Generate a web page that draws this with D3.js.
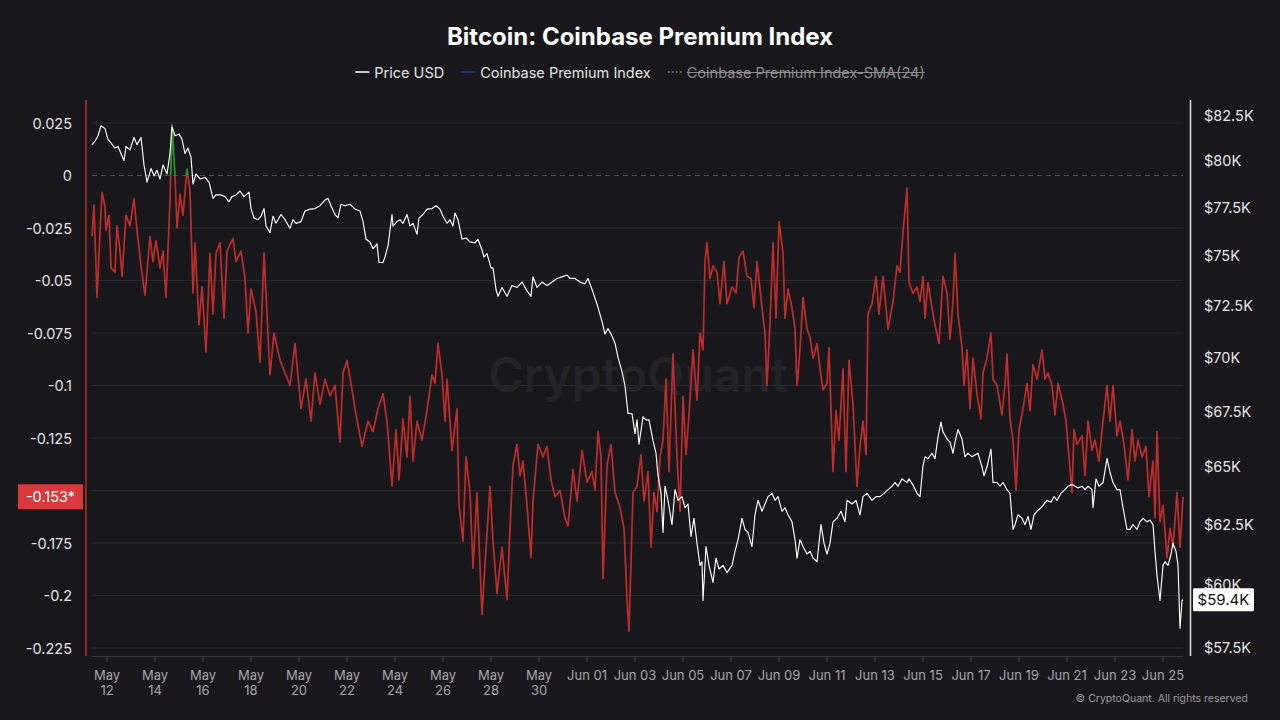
<!DOCTYPE html>
<html>
<head>
<meta charset="utf-8">
<script src="https://cdn.jsdelivr.net/npm/d3@7"></script>
<style>
  html, body { margin: 0; background: #18181c; }
  svg { display: block; font-family: Inter, "Noto Sans", sans-serif; }
</style>
</head>
<body>
<svg id="chart" width="1280" height="720"></svg>
<script>
// hours are counted from May 11 00:00 (UTC)
const seriesNames = ["Price USD", "Coinbase Premium Index", "Coinbase Premium Index-SMA(24)"];
const premiumTicks = [0.025, 0, -0.025, -0.05, -0.075, -0.1, -0.125, -0.15, -0.175, -0.2, -0.225];
const priceTicks = [57.5, 60, 62.5, 65, 67.5, 70, 72.5, 75, 77.5, 80, 82.5];
const lastPremium = -0.153;
const lastPrice = 59.4;

const premium = [
  [9,-0.029],[11,-0.014],[14,-0.058],[17,-0.027],[19,-0.008],[22,-0.015],[23,-0.026],[26,-0.019],[28,-0.044],[32,-0.046],
  [34,-0.024],[37,-0.036],[39,-0.048],[43,-0.019],[47,-0.024],[51,-0.011],[54,-0.026],[58,-0.043],[62,-0.057],[67,-0.029],
  [70,-0.041],[73,-0.031],[77,-0.044],[80,-0.036],[83,-0.058],[87,-0.012],[89,0.024],[92,0.000],[94,-0.025],[97,-0.009],
  [100,-0.019],[104,0.003],[107,-0.007],[110,-0.056],[112,-0.032],[116,-0.071],[119,-0.053],[123,-0.084],[127,-0.037],[130,-0.066],
  [133,-0.037],[137,-0.032],[141,-0.068],[144,-0.036],[150,-0.030],[153,-0.041],[158,-0.036],[162,-0.049],[165,-0.075],[168,-0.054],
  [173,-0.065],[177,-0.089],[181,-0.037],[187,-0.095],[191,-0.075],[197,-0.088],[202,-0.094],[207,-0.100],[212,-0.080],[218,-0.111],
  [223,-0.097],[228,-0.117],[232,-0.094],[237,-0.109],[242,-0.097],[247,-0.105],[252,-0.100],[257,-0.127],[260,-0.094],[264,-0.088],
  [268,-0.099],[273,-0.114],[279,-0.129],[283,-0.121],[285,-0.117],[290,-0.122],[295,-0.111],[300,-0.104],[304,-0.117],[309,-0.148],
  [313,-0.121],[316,-0.145],[320,-0.116],[324,-0.134],[327,-0.105],[330,-0.136],[334,-0.117],[339,-0.126],[344,-0.112],[349,-0.095],
  [352,-0.099],[355,-0.080],[359,-0.095],[362,-0.117],[364,-0.097],[369,-0.131],[374,-0.111],[376,-0.157],[380,-0.174],[383,-0.134],
  [387,-0.151],[390,-0.187],[394,-0.151],[399,-0.209],[402,-0.185],[407,-0.148],[410,-0.174],[414,-0.199],[419,-0.177],[424,-0.202],
  [427,-0.168],[430,-0.138],[434,-0.128],[437,-0.143],[440,-0.136],[444,-0.157],[448,-0.182],[450,-0.155],[455,-0.128],[460,-0.134],
  [464,-0.129],[468,-0.145],[472,-0.153],[477,-0.150],[482,-0.163],[485,-0.167],[490,-0.140],[494,-0.155],[499,-0.131],[504,-0.146],
  [509,-0.141],[512,-0.150],[515,-0.122],[518,-0.134],[520,-0.192],[524,-0.138],[528,-0.128],[532,-0.151],[537,-0.158],[541,-0.168],
  [544,-0.202],[546,-0.217],[550,-0.151],[554,-0.148],[558,-0.133],[561,-0.155],[565,-0.141],[568,-0.177],[571,-0.151],[574,-0.160],
  [577,-0.134],[580,-0.126],[583,-0.097],[586,-0.141],[590,-0.085],[594,-0.134],[597,-0.160],[600,-0.105],[603,-0.133],[606,-0.114],
  [610,-0.083],[614,-0.107],[617,-0.075],[620,-0.083],[622,-0.041],[624,-0.032],[627,-0.049],[630,-0.043],[634,-0.046],[637,-0.061],
  [641,-0.041],[644,-0.061],[649,-0.053],[653,-0.056],[656,-0.039],[660,-0.036],[664,-0.048],[668,-0.049],[671,-0.063],[674,-0.041],
  [679,-0.063],[682,-0.075],[684,-0.100],[687,-0.070],[690,-0.032],[693,-0.068],[696,-0.022],[700,-0.037],[702,-0.068],[705,-0.054],
  [709,-0.063],[712,-0.073],[714,-0.100],[717,-0.083],[720,-0.058],[724,-0.073],[727,-0.077],[730,-0.087],[734,-0.080],[737,-0.092],
  [740,-0.102],[744,-0.099],[746,-0.082],[750,-0.141],[753,-0.112],[756,-0.126],[760,-0.092],[763,-0.141],[766,-0.088],[770,-0.109],
  [774,-0.148],[777,-0.129],[780,-0.117],[783,-0.133],[785,-0.066],[789,-0.061],[793,-0.048],[796,-0.066],[800,-0.048],[805,-0.073],
  [810,-0.060],[814,-0.043],[817,-0.046],[820,-0.027],[824,-0.006],[826,-0.051],[830,-0.056],[834,-0.053],[837,-0.060],[840,-0.048],
  [842,-0.068],[845,-0.051],[849,-0.063],[852,-0.071],[856,-0.080],[860,-0.048],[864,-0.056],[867,-0.078],[870,-0.060],[872,-0.037],
  [875,-0.066],[879,-0.082],[881,-0.100],[884,-0.083],[887,-0.111],[890,-0.087],[894,-0.104],[898,-0.116],[900,-0.094],[904,-0.087],
  [908,-0.075],[910,-0.097],[914,-0.100],[919,-0.114],[922,-0.100],[924,-0.085],[927,-0.116],[930,-0.126],[933,-0.150],[936,-0.121],
  [940,-0.111],[944,-0.099],[947,-0.112],[950,-0.090],[954,-0.097],[959,-0.083],[962,-0.097],[965,-0.094],[969,-0.100],[972,-0.114],
  [975,-0.099],[980,-0.109],[983,-0.117],[986,-0.134],[989,-0.151],[991,-0.121],[994,-0.128],[999,-0.124],[1002,-0.143],[1005,-0.117],
  [1009,-0.131],[1012,-0.126],[1016,-0.136],[1020,-0.117],[1024,-0.100],[1027,-0.117],[1030,-0.100],[1034,-0.124],[1037,-0.117],[1041,-0.128],
  [1045,-0.145],[1049,-0.121],[1052,-0.136],[1055,-0.126],[1059,-0.134],[1063,-0.129],[1066,-0.153],[1070,-0.136],[1072,-0.163],[1074,-0.122],
  [1077,-0.165],[1080,-0.157],[1084,-0.182],[1087,-0.168],[1090,-0.177],[1094,-0.151],[1097,-0.177],[1100,-0.153]
];

// price in thousands of USD
const priceK = [
  [9,80.86],[12,81.05],[15,81.35],[18,81.9],[22,81.74],[25,81.15],[28,80.95],[32,80.67],[35,80.76],[38,80.37],
  [41,79.98],[43,80.76],[47,80.57],[51,81.25],[54,80.86],[58,81.25],[61,79.75],[64,78.83],[68,79.56],[71,79.17],
  [74,79.46],[77,79.0],[80,79.75],[84,79.27],[87,80.37],[89,81.84],[92,81.35],[96,81.45],[99,81.15],[102,80.37],
  [105,80.67],[108,80.18],[110,78.73],[113,79.27],[117,79.0],[122,79.08],[126,78.83],[130,77.97],[133,78.15],[138,78.15],
  [142,78.06],[146,77.79],[149,78.06],[153,78.15],[157,78.36],[161,78.06],[166,78.3],[168,77.43],[171,76.94],[175,76.85],
  [178,77.03],[181,77.43],[183,76.52],[187,76.18],[190,77.03],[193,76.66],[198,77.12],[202,76.85],[207,76.4],[210,76.85],
  [213,76.66],[218,76.75],[222,77.3],[227,77.4],[232,77.43],[237,77.58],[242,77.88],[245,77.97],[248,77.58],[252,77.12],
  [255,76.94],[258,77.66],[262,77.58],[267,77.66],[272,77.4],[277,77.3],[280,76.75],[283,75.84],[287,75.7],[290,75.35],
  [294,75.6],[296,74.65],[300,74.65],[302,74.93],[305,75.5],[309,77.12],[310,76.52],[314,76.75],[317,76.85],[320,76.66],
  [324,77.12],[327,76.52],[330,76.66],[334,76.1],[336,76.94],[340,77.12],[344,77.4],[349,77.43],[353,77.58],[357,77.4],
  [360,77.03],[364,76.66],[367,76.85],[370,76.52],[372,77.2],[375,76.85],[379,75.84],[383,75.9],[387,75.7],[392,75.65],
  [395,75.84],[399,75.29],[401,74.93],[404,75.1],[408,74.38],[410,74.38],[413,73.3],[415,72.96],[419,73.4],[424,72.96],
  [429,73.5],[434,73.4],[439,73.67],[444,73.23],[448,72.96],[450,73.93],[454,73.4],[459,73.67],[464,73.5],[469,73.67],
  [474,73.85],[479,73.93],[484,74.02],[487,73.85],[492,73.85],[497,73.67],[502,73.58],[505,73.85],[509,73.3],[512,72.87],
  [515,72.42],[519,71.73],[522,71.12],[525,71.38],[529,71.02],[532,70.68],[535,70.0],[539,69.33],[542,68.67],[545,67.39],
  [549,67.39],[552,66.47],[554,67.1],[556,66.0],[560,67.24],[563,67.1],[566,67.1],[570,66.16],[573,65.6],[575,64.63],
  [578,63.84],[580,62.17],[582,64.15],[585,63.54],[589,62.5],[592,64.0],[595,63.54],[599,63.7],[602,63.22],[605,63.38],
  [608,62.0],[611,62.77],[614,61.72],[617,60.8],[619,60.95],[620,59.37],[623,61.58],[626,60.8],[630,60.1],[633,61.1],
  [636,60.65],[640,60.8],[644,60.5],[649,60.8],[652,61.38],[655,61.87],[659,62.77],[662,62.3],[665,62.17],[669,61.58],
  [672,62.92],[675,63.54],[679,63.07],[682,63.38],[685,63.7],[689,63.84],[692,63.54],[695,63.7],[699,63.07],[702,63.22],
  [705,62.92],[709,62.62],[712,61.87],[714,61.1],[717,61.87],[720,61.58],[724,61.27],[727,61.38],[730,61.1],[734,60.95],
  [738,62.5],[741,61.72],[744,61.27],[747,61.72],[750,62.62],[754,62.77],[758,63.07],[762,62.62],[764,63.54],[769,63.38],
  [773,63.54],[777,62.92],[780,63.7],[784,63.84],[789,63.54],[793,63.7],[797,63.7],[801,63.84],[805,64.0],[809,64.15],
  [812,64.31],[815,64.15],[819,64.47],[824,64.31],[826,64.47],[830,64.2],[834,63.84],[837,63.7],[840,65.04],[842,65.44],
  [845,65.36],[849,65.6],[852,65.36],[855,66.33],[858,67.0],[860,66.56],[864,66.24],[867,66.1],[870,65.6],[872,66.1],
  [875,66.66],[879,66.24],[882,65.44],[885,65.6],[889,65.44],[892,65.52],[895,65.6],[899,65.0],[901,64.6],[904,65.0],
  [908,65.78],[910,64.31],[914,64.31],[917,64.15],[920,64.31],[924,64.0],[927,63.84],[930,62.3],[932,62.5],[935,62.92],
  [939,62.77],[942,62.5],[945,62.85],[948,62.3],[951,62.92],[954,63.07],[958,63.22],[961,63.38],[964,63.54],[968,63.46],
  [971,63.7],[974,63.54],[978,63.84],[982,64.0],[985,64.15],[989,64.23],[992,64.15],[995,64.07],[999,64.15],[1002,64.0],
  [1005,64.15],[1009,64.0],[1010,63.22],[1013,64.47],[1016,64.15],[1020,64.31],[1024,65.37],[1027,64.76],[1030,64.31],[1034,64.0],
  [1037,64.0],[1040,63.22],[1044,62.3],[1047,62.3],[1050,62.5],[1054,62.3],[1057,62.62],[1060,62.77],[1064,62.62],[1067,62.7],
  [1070,62.5],[1072,61.38],[1074,60.38],[1077,59.37],[1080,60.8],[1082,60.95],[1085,60.8],[1088,61.27],[1090,61.72],[1093,61.38],
  [1095,60.8],[1097,58.26],[1099,59.37],[1100,59.4]
];

const cfg = {
  left: 92, right: 1183, top: 100, bottom: 656,
  red: "#bf2d2b", green: "#2e8b2e", grid: "#29292f", text: "#e4e4e4", muted: "#a5a5a8"
};

const t0 = Date.UTC(2024, 4, 11);
const toDate = h => new Date(t0 + h * 3600e3);

const svg = d3.select("#chart");
const x = d3.scaleUtc().domain([toDate(9), toDate(1100)]).range([cfg.left, cfg.right]);
const yL = d3.scaleLinear().domain([-0.225, 0.025]).range([648, 123]);
const yR = d3.scaleLog().domain([57.5, 82.5]).range([647.7, 115]);

function drawTitle() {
  svg.append("text").attr("x", 640).attr("y", 45).attr("text-anchor", "middle")
    .attr("fill", "#fff").attr("font-size", 24).attr("font-weight", 700)
    .text("Bitcoin: Coinbase Premium Index");
}

function drawLegend() {
  const g = svg.append("g");
  const styles = [
    { stroke: "#ffffff", dash: null, color: cfg.text, strike: false },
    { stroke: "#34349a", dash: null, color: cfg.text, strike: false },
    { stroke: "#777", dash: "2,2", color: "#8c8c90", strike: true }
  ];
  let cx = 0;
  seriesNames.forEach((name, i) => {
    const s = styles[i];
    g.append("line").attr("x1", cx).attr("x2", cx + 14).attr("y1", 72).attr("y2", 72)
      .attr("stroke", s.stroke).attr("stroke-width", 1.5).attr("stroke-dasharray", s.dash);
    const t = g.append("text").attr("x", cx + 19).attr("y", 72).attr("dominant-baseline", "central")
      .attr("fill", s.color).attr("font-size", 14.5).text(name);
    const w = t.node().getComputedTextLength();
    if (s.strike) {
      g.append("line").attr("x1", cx + 19).attr("x2", cx + 19 + w).attr("y1", 72.5).attr("y2", 72.5)
        .attr("stroke", s.color).attr("stroke-width", 1);
    }
    cx += 19 + w + 17;
  });
  const total = cx - 17;
  g.attr("transform", `translate(${640 - total / 2},0)`);
}

function drawGrid() {
  svg.append("g").selectAll("line")
    .data(premiumTicks.filter(v => v !== 0)).enter().append("line")
    .attr("x1", cfg.left).attr("x2", cfg.right)
    .attr("y1", d => yL(d)).attr("y2", d => yL(d))
    .attr("stroke", cfg.grid).attr("stroke-width", 1);
  svg.append("line").attr("x1", cfg.left).attr("x2", cfg.right)
    .attr("y1", yL(0)).attr("y2", yL(0))
    .attr("stroke", "#4c4c52").attr("stroke-width", 1).attr("stroke-dasharray", "5,4");
}

function drawWatermark() {
  svg.append("text").attr("x", 638).attr("y", 392).attr("text-anchor", "middle")
    .attr("fill", "#232328").attr("font-size", 48).attr("font-weight", 600)
    .text("CryptoQuant");
}

function drawPremium() {
  const defs = svg.append("defs");
  defs.append("clipPath").attr("id", "above").append("rect")
    .attr("x", 80).attr("y", 90).attr("width", 1120).attr("height", yL(0) - 90);
  defs.append("clipPath").attr("id", "below").append("rect")
    .attr("x", 80).attr("y", yL(0)).attr("width", 1120).attr("height", 700 - yL(0));
  const line = d3.line().x(d => x(toDate(d[0]))).y(d => yL(d[1]));
  svg.append("path").datum(premium).attr("d", line).attr("clip-path", "url(#below)")
    .attr("fill", "none").attr("stroke", cfg.red).attr("stroke-width", 1.7).attr("stroke-linejoin", "round");
  svg.append("path").datum(premium).attr("d", line).attr("clip-path", "url(#above)")
    .attr("fill", "none").attr("stroke", cfg.green).attr("stroke-width", 1.9).attr("stroke-linejoin", "round");
}

function drawPrice() {
  const line = d3.line().x(d => x(toDate(d[0]))).y(d => yR(d[1]));
  svg.append("path").datum(priceK).attr("d", line)
    .attr("fill", "none").attr("stroke", "#ffffff").attr("stroke-width", 1.15).attr("stroke-linejoin", "round");
}

function drawAxes() {
  // left (premium) axis
  svg.append("line").attr("x1", 86).attr("x2", 86).attr("y1", cfg.top).attr("y2", cfg.bottom)
    .attr("stroke", cfg.red).attr("stroke-width", 1.5);
  svg.append("g").selectAll("text").data(premiumTicks).enter().append("text")
    .attr("x", 72).attr("y", d => yL(d)).attr("text-anchor", "end").attr("dominant-baseline", "central")
    .attr("fill", cfg.text).attr("font-size", 14.5)
    .text(d => String(+d.toFixed(3)));

  // right (price) axis
  svg.append("line").attr("x1", 1190.5).attr("x2", 1190.5).attr("y1", cfg.top).attr("y2", cfg.bottom)
    .attr("stroke", "#e0e0e0").attr("stroke-width", 1.5);
  svg.append("g").selectAll("text").data(priceTicks).enter().append("text")
    .attr("x", 1204).attr("y", d => yR(d)).attr("dominant-baseline", "central")
    .attr("fill", cfg.text).attr("font-size", 14.5)
    .text(d => "$" + d + "K");

  // time axis
  svg.append("line").attr("x1", cfg.left).attr("x2", cfg.right).attr("y1", 656.5).attr("y2", 656.5)
    .attr("stroke", "#3a3a40");
  const ticks = d3.utcDay.range(new Date(Date.UTC(2024, 4, 12)), new Date(Date.UTC(2024, 5, 26)), 2);
  const g = svg.append("g");
  ticks.forEach(t => {
    const tx = x(t);
    g.append("line").attr("x1", tx).attr("x2", tx).attr("y1", 657).attr("y2", 662).attr("stroke", "#4a4a50");
    const lbl = g.append("text").attr("x", tx).attr("text-anchor", "middle")
      .attr("fill", cfg.muted).attr("font-size", 13);
    if (t.getUTCMonth() === 4) {
      lbl.append("tspan").attr("x", tx).attr("y", 680).text("May");
      lbl.append("tspan").attr("x", tx).attr("y", 695).text(d3.utcFormat("%d")(t));
    } else {
      lbl.attr("y", 680).text(d3.utcFormat("%b %d")(t));
    }
  });
}

function drawBadges() {
  const yp = yL(lastPremium);
  svg.append("rect").attr("x", 18).attr("y", yp - 12.5).attr("width", 65).attr("height", 25)
    .attr("fill", "#d8393a");
  svg.append("text").attr("x", 50.5).attr("y", yp).attr("text-anchor", "middle").attr("dominant-baseline", "central")
    .attr("fill", "#fff").attr("font-size", 14.5).text(lastPremium + "*");

  const yq = yR(lastPrice);
  svg.append("rect").attr("x", 1193).attr("y", yq - 11.5).attr("width", 61).attr("height", 23)
    .attr("fill", "#fff").attr("rx", 1.5);
  svg.append("text").attr("x", 1223.5).attr("y", yq).attr("text-anchor", "middle").attr("dominant-baseline", "central")
    .attr("fill", "#111").attr("font-size", 15).text("$" + lastPrice + "K");
}

function drawFooter() {
  svg.append("text").attr("x", 1248).attr("y", 702).attr("text-anchor", "end")
    .attr("fill", "#9a9a9e").attr("font-size", 10.5)
    .text("© CryptoQuant. All rights reserved");
}

drawTitle();
drawLegend();
drawGrid();
drawWatermark();
drawPremium();
drawPrice();
drawAxes();
drawBadges();
drawFooter();
</script>
</body>
</html>
